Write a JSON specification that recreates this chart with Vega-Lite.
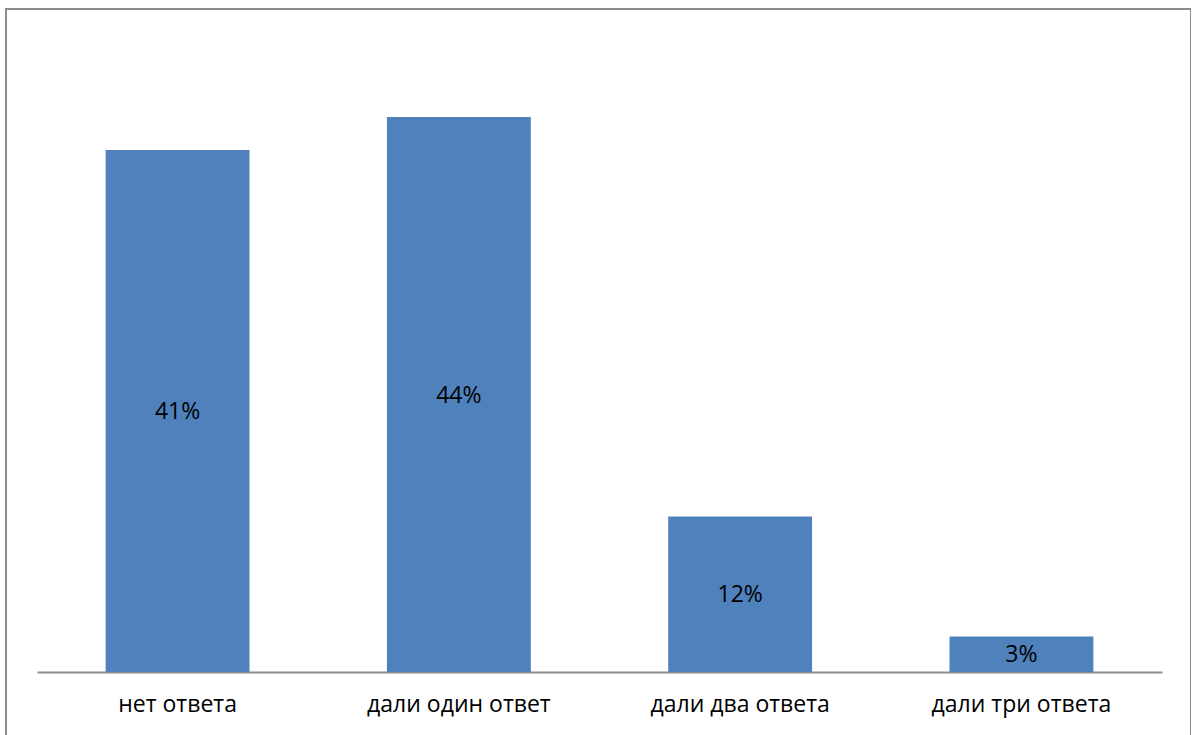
{
  "$schema": "https://vega.github.io/schema/vega-lite/v6.json",
  "autosize": "none",
  "padding": {"left": 6, "top": 9, "right": 0, "bottom": 0},
  "width": 1185,
  "height": 740,
  "background": "white",
  "config": {
    "view": {"stroke": "#8c8c8c", "strokeWidth": 2},
    "font": "Open Sans"
  },
  "data": {
    "values": [
      {"category": "нет ответа", "share": 0.413},
      {"category": "дали один ответ", "share": 0.439},
      {"category": "дали два ответа", "share": 0.123},
      {"category": "дали три ответа", "share": 0.028}
    ]
  },
  "transform": [{"calculate": "datum.share / 2", "as": "mid"}],
  "encoding": {
    "x": {
      "field": "category",
      "type": "nominal",
      "sort": null,
      "scale": {"range": [31, 1156], "paddingInner": 0.4885, "paddingOuter": 0.244},
      "axis": {
        "title": null,
        "orient": "bottom",
        "offset": -77,
        "domainColor": "#8c8c8c",
        "domainWidth": 2,
        "ticks": false,
        "labelAngle": 0,
        "labelFont": "Open Sans",
        "labelFontSize": 23,
        "labelColor": "#000000",
        "labelPadding": 21,
        "labelLimit": 0,
        "labelOverlap": false
      }
    }
  },
  "layer": [
    {
      "mark": {"type": "bar", "color": "#4F81BD"},
      "encoding": {
        "y": {
          "field": "share",
          "type": "quantitative",
          "scale": {"domain": [0, 0.5], "range": [663, 31], "nice": false},
          "axis": null
        }
      }
    },
    {
      "mark": {"type": "text", "fontSize": 23, "color": "#000000", "baseline": "middle", "font": "Open Sans", "dy": 1},
      "encoding": {
        "y": {"field": "mid", "type": "quantitative", "scale": {"domain": [0, 0.5], "range": [663, 31], "nice": false}, "axis": null},
        "text": {"field": "share", "type": "quantitative", "format": ".0%"}
      }
    }
  ]
}
